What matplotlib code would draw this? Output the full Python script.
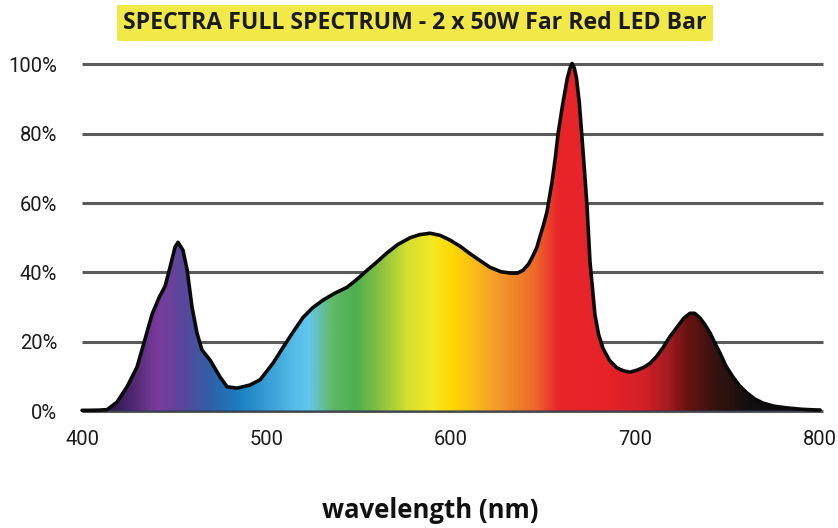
import numpy as np
import matplotlib
matplotlib.use("Agg")
import matplotlib.pyplot as plt
from matplotlib.colors import LinearSegmentedColormap
from matplotlib.patches import Polygon

# ---- data ----
wavelength = [400, 404, 409, 413.6, 419, 424.4, 429.8, 434, 438, 442, 445, 447.7, 450.4, 452,
              454.7, 457, 459.6, 462.3, 465, 469.4, 474.8, 478.6, 484, 491, 496.5, 503.5,
              509, 514, 519.8, 525, 530.6, 537, 543.6, 549, 554.5, 560, 565, 571, 577.8, 583,
              588.6, 594, 599.5, 605, 610, 616, 621, 627, 632, 636, 639, 642, 644.4, 646.5,
              648, 650, 652, 654.7, 656.5, 658, 660.5, 663, 664.5, 665.6, 666.8, 668, 669.5,
              671, 672.5, 673.7, 675.3, 678, 680, 682.4, 686, 690, 693.5, 697, 700.8,
              704.5, 707.9, 711.5, 715, 718.7, 722.5, 726, 729.5, 732, 735, 737.5, 740.4,
              743, 745.8, 749, 752.8, 756.5, 760.4, 764.5, 769, 775, 782, 790, 798, 800]
intensity = [0.2, 0.2, 0.25, 0.4, 2.6, 7, 12.7, 20.5, 28, 33, 36, 41.5, 47.3, 48.7,
             46.4, 40.6, 30, 22.5, 17.6, 14.7, 9.8, 7, 6.6, 7.5, 9, 13.8,
             18.4, 22.5, 27, 29.8, 32, 34, 35.7, 38, 40.6, 43.1, 45.5, 48, 50, 50.9,
             51.3, 50.7, 49.3, 47.5, 45.5, 43.3, 41.5, 40.2, 39.8, 39.8, 40.6, 42.4, 44.8, 47.2,
             50, 53.5, 57.5, 66, 73, 80, 88.5, 96, 99, 100.3, 99, 96, 89,
             78.7, 68, 59, 43, 27.7, 22, 18, 14.5, 12.4, 11.6, 11.2, 11.8,
             12.6, 13.8, 15.8, 18.4, 21.5, 24.2, 26.7, 28.2, 28.2, 26.8, 25, 22.5,
             19.6, 16.7, 13, 9.8, 7.2, 5.2, 3.5, 2.3, 1.4, 0.9, 0.5, 0.3, 0.3]

color_nm = [400, 420, 440, 455, 470, 485, 510, 522, 535, 548, 562, 576, 590, 600, 612,
            627, 645, 658, 685, 705, 718, 728, 742, 762, 800]
color_hex = ["#24182e", "#3b1f5c", "#7a3b9b", "#56489c", "#2c62a9", "#1b80c2", "#4cb2e2",
             "#62c8f0", "#62b868", "#4caf50", "#8cc33f", "#d2e030", "#f5e821", "#fed800",
             "#fbbd16", "#f2952c", "#ec6b29", "#e8262a", "#e52329", "#d32028", "#a21c21",
             "#6b1211", "#3a1311", "#121010", "#050505"]

yticks = [0, 20, 40, 60, 80, 100]
xticks = [400, 500, 600, 700, 800]
title = "SPECTRA FULL SPECTRUM - 2 x 50W Far Red LED Bar"
xlabel = "wavelength (nm)"

# ---- figure ----
fig = plt.figure(figsize=(8.38, 5.28), dpi=100)
ax = fig.add_axes([0.0979, 0.2150, 0.8807, 0.676])
ax.set_xlim(400, 800)
ax.set_ylim(-1, 102)
for s in ax.spines.values():
    s.set_visible(False)

# grid lines
for yv in yticks:
    ax.plot([400, 801.5], [yv, yv], color="#5a5a5a", lw=2.2, zorder=1, clip_on=False,
            solid_capstyle="butt")

# gradient fill clipped to curve
pos = [(c - 400) / 400 for c in color_nm]
cmap = LinearSegmentedColormap.from_list("spec", list(zip(pos, color_hex)))
grad = np.linspace(0, 1, 800).reshape(1, -1)
im = ax.imshow(grad, cmap=cmap, extent=[400, 800, 0, 102], aspect="auto",
               origin="lower", zorder=2, interpolation="bilinear")
verts = [(wavelength[0], 0)] + list(zip(wavelength, intensity)) + [(wavelength[-1], 0)]
poly = Polygon(verts, closed=True, facecolor="none", edgecolor="none",
               transform=ax.transData)
ax.add_patch(poly)
im.set_clip_path(poly)

# baseline visible under the fill
ax.plot([400, 800], [0, 0], color="#2a3550", lw=1.2, zorder=2.5, alpha=0.6)

ax.plot(wavelength, intensity, color="#0a0a0a", lw=2.6, zorder=3,
        solid_joinstyle="round", solid_capstyle="round", clip_on=False)

tickfont = ["Roboto", "DejaVu Sans"]
ax.set_yticks(yticks)
ax.set_yticklabels([f"{v}%" for v in yticks], fontfamily=tickfont, fontsize=14.5,
                   color="#1a1a1a")
ax.set_xticks(xticks)
ax.set_xticklabels([str(v) for v in xticks], fontfamily=tickfont, fontsize=14.5,
                   color="#1a1a1a")
ax.tick_params(length=0)
ax.tick_params(axis="y", pad=18)
ax.tick_params(axis="x", pad=11)

fig.text(0.514, 0.019, xlabel, ha="center", va="baseline", fontsize=18.5,
         fontweight="bold", family="Open Sans", color="#111111")

fig.text(0.495, 0.956, title, ha="center", va="center", fontsize=16.6,
         fontweight="bold", family="Open Sans", color="#1a1a1a",
         bbox=dict(boxstyle="square,pad=0.26", facecolor="#f1e948", edgecolor="none"))

fig.savefig("out.png", dpi=100)
